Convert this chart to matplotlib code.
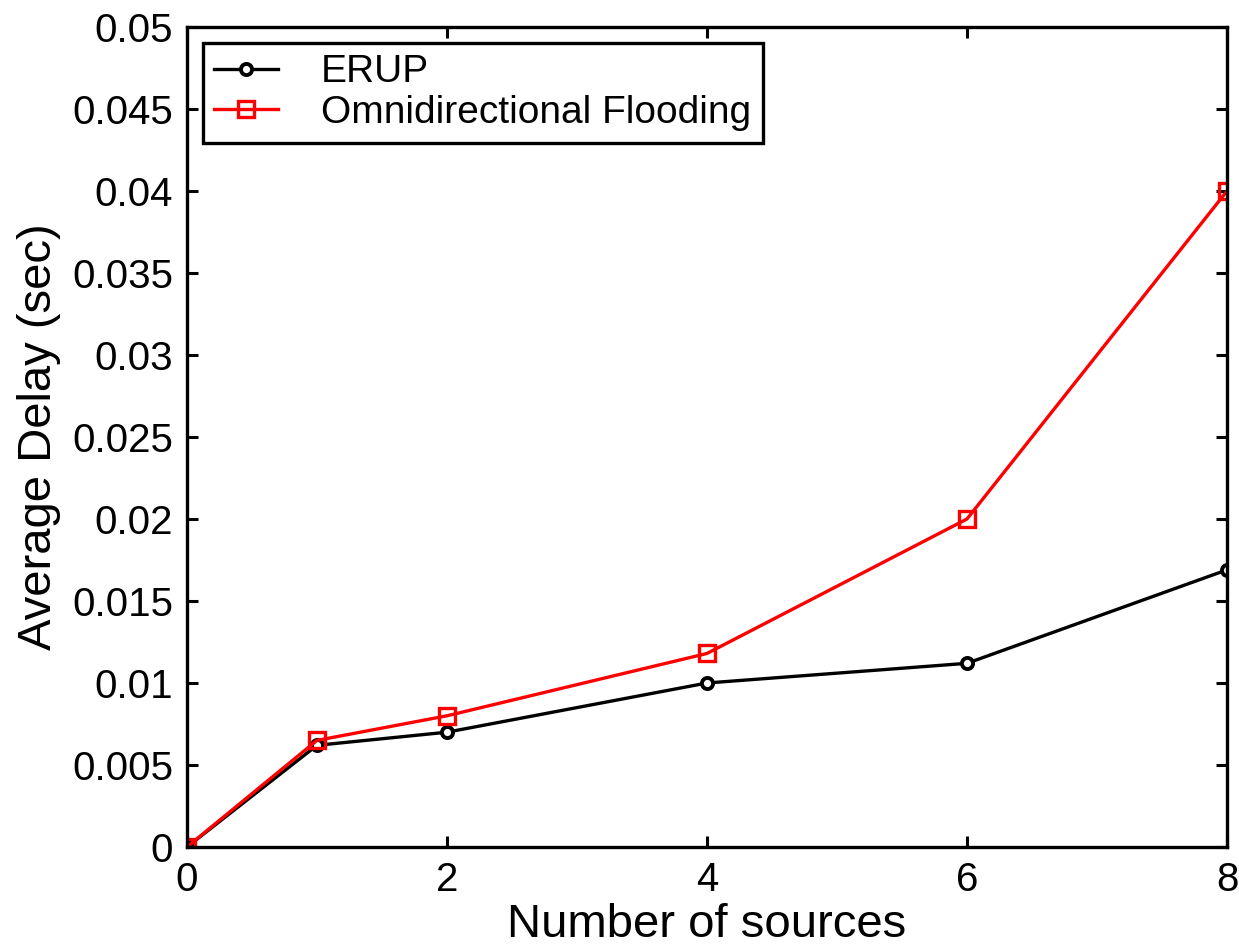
import matplotlib.pyplot as plt

sources = [0, 1, 2, 4, 6, 8]
erup_delay = [0.0, 0.0062, 0.0070, 0.0100, 0.0112, 0.0169]
flood_delay = [0.0, 0.0065, 0.0080, 0.0118, 0.0200, 0.0400]

plt.rcParams['font.family'] = ['Liberation Sans', 'DejaVu Sans']

fig = plt.figure(figsize=(12.39, 9.49), dpi=100)
ax = fig.add_axes([0.1509, 0.1075, 0.8394, 0.864])

ax.plot(sources, erup_delay, color='black', linewidth=2.4, marker='o', markersize=8,
        markerfacecolor='white', markeredgewidth=2.8, label='ERUP')
ax.plot(sources, flood_delay, color='red', linewidth=2.4, marker='s', markersize=11,
        markerfacecolor='none', markeredgewidth=2.4, label='Omnidirectional Flooding')

ax.set_xlim(0, 8)
ax.set_ylim(0, 0.05)
ax.set_xticks([0, 2, 4, 6, 8])
ax.set_yticks([0, 0.005, 0.01, 0.015, 0.02, 0.025, 0.03, 0.035, 0.04, 0.045, 0.05])
ax.set_yticklabels(['0', '0.005', '0.01', '0.015', '0.02', '0.025', '0.03', '0.035', '0.04', '0.045', '0.05'])

ax.tick_params(direction='in', top=True, right=True, labelsize=29, length=8, width=2.2, pad=10)
for s in ax.spines.values():
    s.set_linewidth(2.4)

ax.set_xlabel('Number of sources', fontsize=34, labelpad=3)
ax.set_ylabel('Average Delay (sec)', fontsize=34, labelpad=8)

leg = ax.legend(loc='upper left', fontsize=28, frameon=True, fancybox=False,
                edgecolor='black', framealpha=1, handlelength=1.65, borderaxespad=0.4,
                borderpad=0.3, handletextpad=1.1, labelspacing=0.12)
leg.get_frame().set_linewidth(2.4)

fig.savefig('out.png', dpi=100)
